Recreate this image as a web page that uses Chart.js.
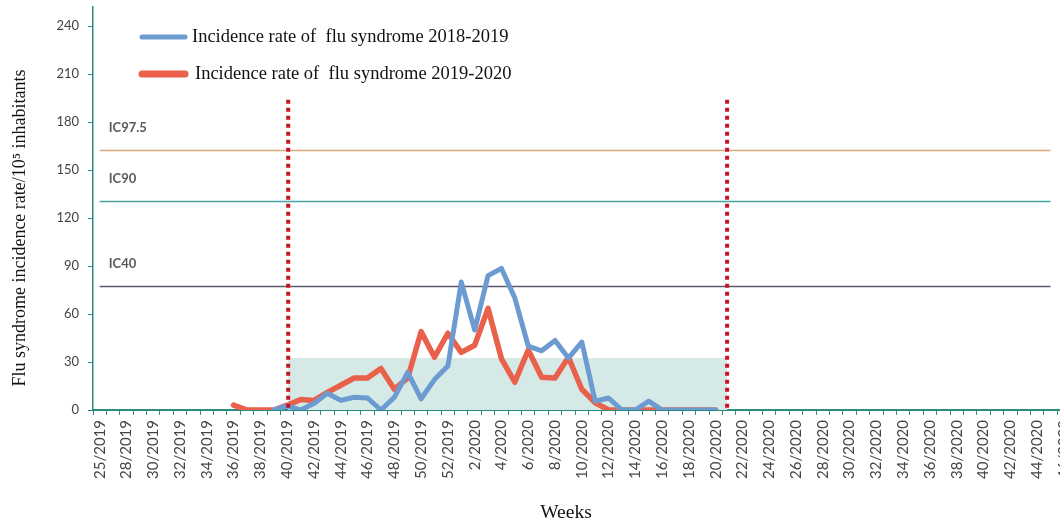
<!DOCTYPE html>
<html>
<head>
<meta charset="utf-8">
<title>Flu syndrome incidence rate</title>
<script src="https://cdn.jsdelivr.net/npm/chart.js"></script>
<style>
    html, body { margin: 0; padding: 0; background: #fff; overflow: hidden; }
    #wrap { width: 1060px; height: 522px; overflow: hidden; position: relative; }
    canvas { display: block; }
</style>
</head>
<body>
<div id="wrap">
    <canvas id="fluChart" width="1100" height="522"></canvas>
</div>
<script>
// Week categories (the source labels the first week 25/2019)
const weeks = [
    '25/2019', '27/2019', '28/2019', '29/2019', '30/2019', '31/2019', '32/2019', '33/2019',
    '34/2019', '35/2019', '36/2019', '37/2019', '38/2019', '39/2019', '40/2019', '41/2019',
    '42/2019', '43/2019', '44/2019', '45/2019', '46/2019', '47/2019', '48/2019', '49/2019',
    '50/2019', '51/2019', '52/2019',
    '1/2020', '2/2020', '3/2020', '4/2020', '5/2020', '6/2020', '7/2020', '8/2020',
    '9/2020', '10/2020', '11/2020', '12/2020', '13/2020', '14/2020', '15/2020', '16/2020',
    '17/2020', '18/2020', '19/2020', '20/2020', '21/2020', '22/2020', '23/2020', '24/2020',
    '25/2020', '26/2020', '27/2020', '28/2020', '29/2020', '30/2020', '31/2020', '32/2020',
    '33/2020', '34/2020', '35/2020', '36/2020', '37/2020', '38/2020', '39/2020', '40/2020',
    '41/2020', '42/2020', '43/2020', '44/2020', '45/2020', '46/2020', '47/2020'
];

// Incidence per 10^5 inhabitants
const season2018 = [
    null, null, null, null, null, null, null, null, null, null,
    null, null, null, 0, 2.5, 0, 4, 10.5, 6, 8,
    7.5, 0, 8, 23.5, 7, 19, 27.5, 80, 50, 84,
    88.5, 70, 40, 37, 43.5, 32.5, 42.5, 5.5, 7.5, 0,
    0, 5.5, 0, 0, 0, 0, 0
];
const season2019 = [
    null, null, null, null, null, null, null, null, null, null,
    3, 0, 0, 0, 3, 6.5, 6, 11, 15.5, 20,
    20, 26, 13, 20, 49, 33, 48, 36, 40.5, 63.5,
    32, 17.5, 37.5, 20.5, 20, 33, 13, 4.5, 0, 0,
    0, 0, 0, 0, 0, 0, 0
];

const seriesLabels = ['Incidence rate of  flu syndrome 2018-2019', 'Incidence rate of  flu syndrome 2019-2020'];
const seriesColors = ['#6c9bd2', '#e9604b'];

// Epidemic thresholds
const thresholdLabels = ['IC97.5', 'IC90', 'IC40'];
const thresholdValues = [162.5, 130.5, 77.5];
const thresholdColors = ['#d9aa7c', '#46a2a0', '#5c5a6c'];

// Surveillance window (red dotted lines) and baseline band
const windowWeeks = ['40/2019', '21/2020'];
const windowTop = 194;
const baselineBand = 32.5;

const yTicks = [0, 30, 60, 90, 120, 150, 180, 210, 240];
const yMax = 252;

const axisColor = '#2b8a7c';

const overlayPlugin = {
    id: 'overlay',
    beforeDatasetsDraw(chart) {
        const { ctx, scales: { x, y } } = chart;
        const x0 = x.getPixelForValue(weeks.indexOf(windowWeeks[0])) + 1;
        const x1 = x.getPixelForValue(weeks.indexOf(windowWeeks[1])) - 2;
        ctx.save();
        // baseline band
        ctx.fillStyle = '#d5eae6';
        ctx.fillRect(x0, y.getPixelForValue(baselineBand), x1 - x0, y.getPixelForValue(0) - y.getPixelForValue(baselineBand));

        // threshold lines and their labels
        const lx0 = x.getPixelForValue(0);
        const lx1 = x.getPixelForValue(weeks.indexOf('45/2020'));
        thresholdValues.forEach((v, i) => {
            const py = Math.round(y.getPixelForValue(v)) + 0.5;
            ctx.strokeStyle = thresholdColors[i];
            ctx.lineWidth = 1.5;
            ctx.beginPath();
            ctx.moveTo(lx0, py);
            ctx.lineTo(lx1, py);
            ctx.stroke();
            ctx.fillStyle = '#5a5a5a';
            ctx.font = 'bold 13px Lato';
            ctx.textAlign = 'left';
            ctx.textBaseline = 'middle';
            ctx.fillText(thresholdLabels[i], lx0 + 9, py - 23);
        });
        ctx.restore();
    },
    afterDatasetsDraw(chart) {
        const { ctx, scales: { x, y } } = chart;
        ctx.save();
        ctx.strokeStyle = '#cc1126';
        ctx.lineWidth = 4;
        ctx.setLineDash([4, 4]);
        windowWeeks.forEach((w, i) => {
            const px = x.getPixelForValue(weeks.indexOf(w)) + (i === 0 ? 1 : -2);
            ctx.beginPath();
            ctx.moveTo(px, y.getPixelForValue(windowTop));
            ctx.lineTo(px, y.getPixelForValue(0));
            ctx.stroke();
        });
        ctx.restore();
    },
    afterDraw(chart) {
        const ctx = chart.ctx;
        ctx.save();
        // legend
        const legendY = [37, 74];
        const legendWidth = [5, 7];
        const textX = [192, 195];
        seriesLabels.forEach((label, i) => {
            ctx.strokeStyle = seriesColors[i];
            ctx.lineWidth = legendWidth[i];
            ctx.lineCap = 'round';
            ctx.beginPath();
            ctx.moveTo(142, legendY[i]);
            ctx.lineTo(185, legendY[i]);
            ctx.stroke();
            ctx.fillStyle = '#111';
            ctx.font = '18.5px "Liberation Serif"';
            ctx.textAlign = 'left';
            ctx.textBaseline = 'middle';
            ctx.fillText(label, textX[i], legendY[i]);
        });

        // axis titles
        ctx.fillStyle = '#111';
        ctx.font = '18px "Liberation Serif"';
        ctx.textAlign = 'center';
        ctx.textBaseline = 'middle';
        ctx.save();
        ctx.translate(20, 228);
        ctx.rotate(-Math.PI / 2);
        ctx.fillText('Flu syndrome incidence rate/10\u2075 inhabitants', 0, 0);
        ctx.restore();
        ctx.font = '19.5px "Liberation Serif"';
        ctx.fillText('Weeks', 566, 513);
        ctx.restore();
    }
};

new Chart(document.getElementById('fluChart'), {
    type: 'line',
    data: {
        labels: weeks,
        datasets: [
            {
                label: seriesLabels[0],
                data: season2018,
                borderColor: seriesColors[0],
                borderWidth: 5,
                pointRadius: 0,
                tension: 0,
                borderJoinStyle: 'round',
                borderCapStyle: 'round',
                spanGaps: false
            },
            {
                label: seriesLabels[1],
                data: season2019,
                borderColor: seriesColors[1],
                borderWidth: 5.5,
                pointRadius: 0,
                tension: 0,
                borderJoinStyle: 'round',
                borderCapStyle: 'round',
                spanGaps: false
            }
        ]
    },
    options: {
        responsive: false,
        animation: false,
        layout: { padding: { top: 7, left: 0, right: 16, bottom: 0 } },
        plugins: {
            legend: { display: false },
            tooltip: { enabled: false }
        },
        scales: {
            x: {
                offset: true,
                border: { color: axisColor, width: 2 },
                grid: { offset: true, drawOnChartArea: false, color: axisColor, tickLength: 5, lineWidth: 1 },
                ticks: {
                    autoSkip: false,
                    maxRotation: 90,
                    minRotation: 90,
                    padding: 5,
                    color: '#444',
                    font: { family: 'Lato', size: 15 },
                    callback: function (value, index) {
                        return index % 2 === 0 ? weeks[index] : '';
                    }
                },
                afterFit: function (scale) {
                    scale.height = 112;
                    scale.paddingLeft = 0;
                    scale.paddingRight = 0;
                }
            },
            y: {
                min: 0,
                max: yMax,
                border: { color: axisColor, width: 1.5 },
                grid: { drawOnChartArea: false, color: axisColor, tickLength: 5 },
                ticks: {
                    stepSize: 30,
                    padding: 9,
                    color: '#444',
                    font: { family: 'Lato', size: 13 }
                },
                afterBuildTicks: function (scale) {
                    scale.ticks = yTicks.map(v => ({ value: v }));
                },
                afterFit: function (scale) {
                    scale.width = 93;
                    scale.paddingTop = 0;
                    scale.paddingBottom = 0;
                }
            }
        }
    },
    plugins: [overlayPlugin]
});
</script>
</body>
</html>
